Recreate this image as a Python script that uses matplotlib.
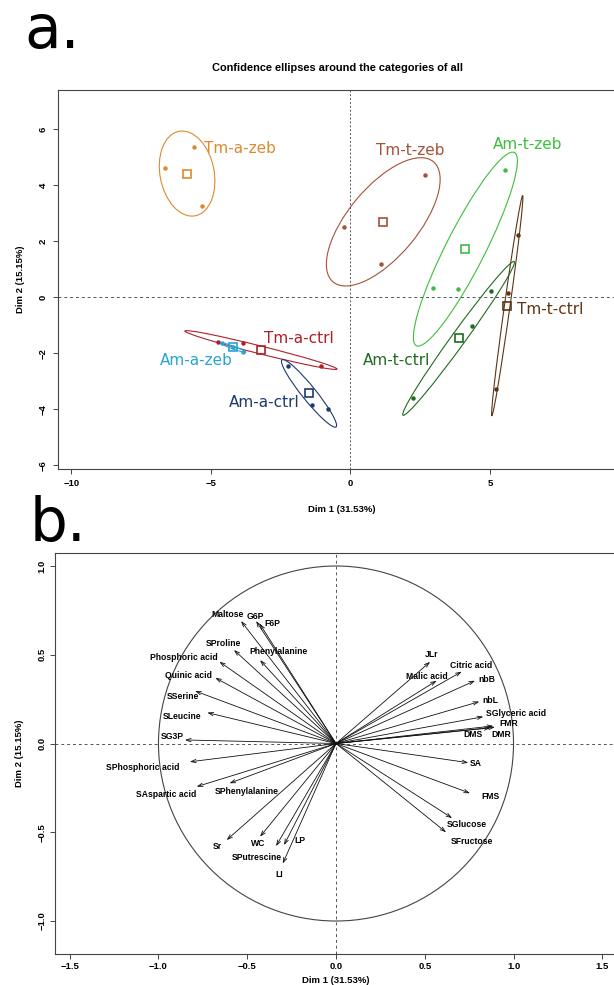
import numpy as np
import matplotlib.pyplot as plt
from matplotlib.patches import Ellipse, Circle

plt.rcParams['font.family'] = ['Liberation Sans', 'DejaVu Sans']

# ---------------- panel a : individuals + confidence ellipses ----------------
groups = ["Tm-a-zeb", "Tm-t-zeb", "Am-t-zeb", "Tm-t-ctrl",
          "Am-t-ctrl", "Tm-a-ctrl", "Am-a-zeb", "Am-a-ctrl"]
group_colors = ["#DC8A2E", "#A4523A", "#3DBE3D", "#5E3414",
                "#1F6B1F", "#B0202A", "#2AA4D5", "#1D3B6E"]
ind_x = [[-5.61, -6.64, -5.31],
         [2.66, 1.09, -0.22],
         [5.54, 2.97, 3.85],
         [5.99, 5.66, 5.21],
         [5.03, 4.35, 2.25],
         [-4.73, -3.84, -1.05],
         [-4.60, -4.20, -3.84],
         [-2.25, -1.39, -0.81]]
ind_y = [[5.38, 4.61, 3.26],
         [4.36, 1.20, 2.52],
         [4.54, 0.32, 0.30],
         [2.23, 0.15, -3.28],
         [0.22, -1.03, -3.59],
         [-1.59, -1.62, -2.44],
         [-1.64, -1.79, -1.94],
         [-2.45, -3.85, -3.99]]
# ellipse full axes (Dim units) and orientation (degrees)
ell_width = [3.07, 5.60, 7.74, 7.94, 6.78, 5.62, 1.00, 3.08]
ell_height = [1.94, 2.50, 1.40, 0.20, 0.50, 0.28, 0.10, 0.50]
ell_angle = [101, 50, 63, 82, 54, -14, -20, -51]
# group label anchors (left edge, middle)
lab_x = [-5.24, 0.92, 5.12, 5.96, 0.44, -3.10, -6.82, -4.34]
lab_y = [5.30, 5.24, 5.44, -0.43, -2.24, -1.46, -2.24, -3.76]

# ---------------- panel b : variables factor map ----------------
var_names = ["Maltose", "G6P", "F6P", "Phenylalanine", "SProline",
             "Phosphoric acid", "Quinic acid", "SSerine", "SLeucine", "SG3P",
             "SPhosphoric acid", "SAspartic acid", "SPhenylalanine", "Sr",
             "WC", "LP", "SPutrescine", "LI",
             "JLr", "Malic acid", "Citric acid", "nbB", "nbL",
             "SGlyceric acid", "FMR", "DMS", "DMR", "SA", "FMS",
             "SGlucose", "SFructose"]
var_x = [-0.535, -0.450, -0.430, -0.428, -0.575,
         -0.657, -0.680, -0.794, -0.725, -0.851,
         -0.823, -0.785, -0.600, -0.616,
         -0.428, -0.293, -0.338, -0.300,
         0.530, 0.567, 0.708, 0.783, 0.807,
         0.830, 0.886, 0.870, 0.895, 0.745, 0.755,
         0.654, 0.620]
var_y = [0.690, 0.690, 0.675, 0.470, 0.527,
         0.461, 0.370, 0.296, 0.174, 0.020,
         -0.103, -0.243, -0.224, -0.544,
         -0.525, -0.572, -0.578, -0.676,
         0.460, 0.354, 0.405, 0.354, 0.236,
         0.151, 0.099, 0.088, 0.092, -0.108, -0.280,
         -0.420, -0.500]
# label centres (placed to avoid overlaps, as in the original)
vlab_x = [-0.610, -0.456, -0.358, -0.325, -0.635,
          -0.858, -0.832, -0.863, -0.869, -0.924,
          -1.088, -0.958, -0.501, -0.668,
          -0.440, -0.203, -0.448, -0.321,
          0.539, 0.511, 0.759, 0.849, 0.868,
          1.016, 0.971, 0.769, 0.929, 0.785, 0.868,
          0.738, 0.766]
vlab_y = [0.728, 0.714, 0.677, 0.517, 0.565,
          0.486, 0.382, 0.264, 0.151, 0.037,
          -0.136, -0.285, -0.272, -0.581,
          -0.562, -0.544, -0.643, -0.738,
          0.499, 0.380, 0.437, 0.362, 0.245,
          0.170, 0.110, 0.048, 0.048, -0.112, -0.296,
          -0.459, -0.550]

W, H = 614, 985
fig = plt.figure(figsize=(W / 100, H / 100), dpi=100)


def box(l, r, t, b):
    return [l / W, 1 - b / H, (r - l) / W, (b - t) / H]


def style_axes(ax, pad=4):
    for s in ax.spines.values():
        s.set_color("#444444")
        s.set_linewidth(0.8)
    ax.tick_params(length=3.5, width=0.7, color="#444444", labelsize=6.8, pad=pad)
    for t in ax.get_xticklabels() + ax.get_yticklabels():
        t.set_fontweight("bold")
    for t in ax.get_yticklabels():
        t.set_rotation(90)
        t.set_va("center")


# ----- panel a -----
ax1 = fig.add_axes(box(58, 625, 90, 469))
ax1.set_xlim(-10.48, 9.84)
ax1.set_ylim(-6.13, 7.40)
ax1.axhline(0, color="#555555", lw=0.7, ls=(0, (3, 3)))
ax1.axvline(0, color="#555555", lw=0.7, ls=(0, (2, 2)))
for i, g in enumerate(groups):
    c = group_colors[i]
    mx, my = np.mean(ind_x[i]), np.mean(ind_y[i])
    ax1.add_patch(Ellipse((mx, my), ell_width[i], ell_height[i], angle=ell_angle[i],
                          fill=False, ec=c, lw=0.8))
    ax1.plot(ind_x[i], ind_y[i], "o", ms=2.2, color=c, mec=c)
    ax1.plot(mx, my, "s", ms=6, mfc="none", mec=c, mew=1.2)
    ax1.text(lab_x[i], lab_y[i], g, color=c, fontsize=11, va="center", ha="left",
             family="DejaVu Sans")
ax1.set_xticks([-10, -5, 0, 5])
ax1.set_yticks([-6, -4, -2, 0, 2, 4, 6])
ax1.set_xticklabels(["\u221210", "\u22125", "0", "5"])
ax1.set_yticklabels(["\u22126", "\u22124", "\u22122", "0", "2", "4", "6"])
style_axes(ax1)
ax1.set_xlabel("Dim 1 (31.53%)", fontsize=6.8, fontweight="bold", labelpad=12)
ax1.set_ylabel("Dim 2 (15.15%)", fontsize=6.8, fontweight="bold", labelpad=10)
ax1.set_title("Confidence ellipses around the categories of all", fontsize=7.9,
              fontweight="bold", pad=14, x=(337 - 58) / (625 - 58))

# ----- panel b -----
ax2 = fig.add_axes(box(55, 617, 552.7, 953.5))
ax2.set_xlim(-1.583, 1.583)
ax2.set_ylim(-1.183, 1.075)
ax2.axhline(0, color="#555555", lw=0.7, ls=(0, (3, 3)))
ax2.axvline(0, color="#555555", lw=0.7, ls=(0, (3, 3)))
ax2.add_patch(Circle((0, 0), 1, fill=False, ec="#444444", lw=0.8))
for i, name in enumerate(var_names):
    ax2.annotate("", xy=(var_x[i], var_y[i]), xytext=(0, 0),
                 arrowprops=dict(arrowstyle="->,head_length=0.35,head_width=0.12",
                                 lw=0.6, color="#111111", shrinkA=0, shrinkB=0))
    ax2.text(vlab_x[i], vlab_y[i], name, fontsize=6.2, fontweight="bold",
             ha="center", va="center")
ax2.set_xticks([-1.5, -1.0, -0.5, 0.0, 0.5, 1.0, 1.5])
ax2.set_yticks([-1.0, -0.5, 0.0, 0.5, 1.0])
ax2.set_xticklabels(["\u22121.5", "\u22121.0", "\u22120.5", "0.0", "0.5", "1.0", "1.5"])
ax2.set_yticklabels(["\u22121.0", "\u22120.5", "0.0", "0.5", "1.0"])
style_axes(ax2, pad=2.5)
ax2.set_xlabel("Dim 1 (31.53%)", fontsize=6.8, fontweight="bold", labelpad=4)
ax2.set_ylabel("Dim 2 (15.15%)", fontsize=6.8, fontweight="bold", labelpad=10)

fig.text(24 / W, 1 - 48 / H, "a.", fontsize=43, family="DejaVu Sans", va="baseline")
fig.text(30 / W, 1 - 541 / H, "b.", fontsize=43, family="DejaVu Sans", va="baseline")

fig.savefig("out.png", dpi=100)
